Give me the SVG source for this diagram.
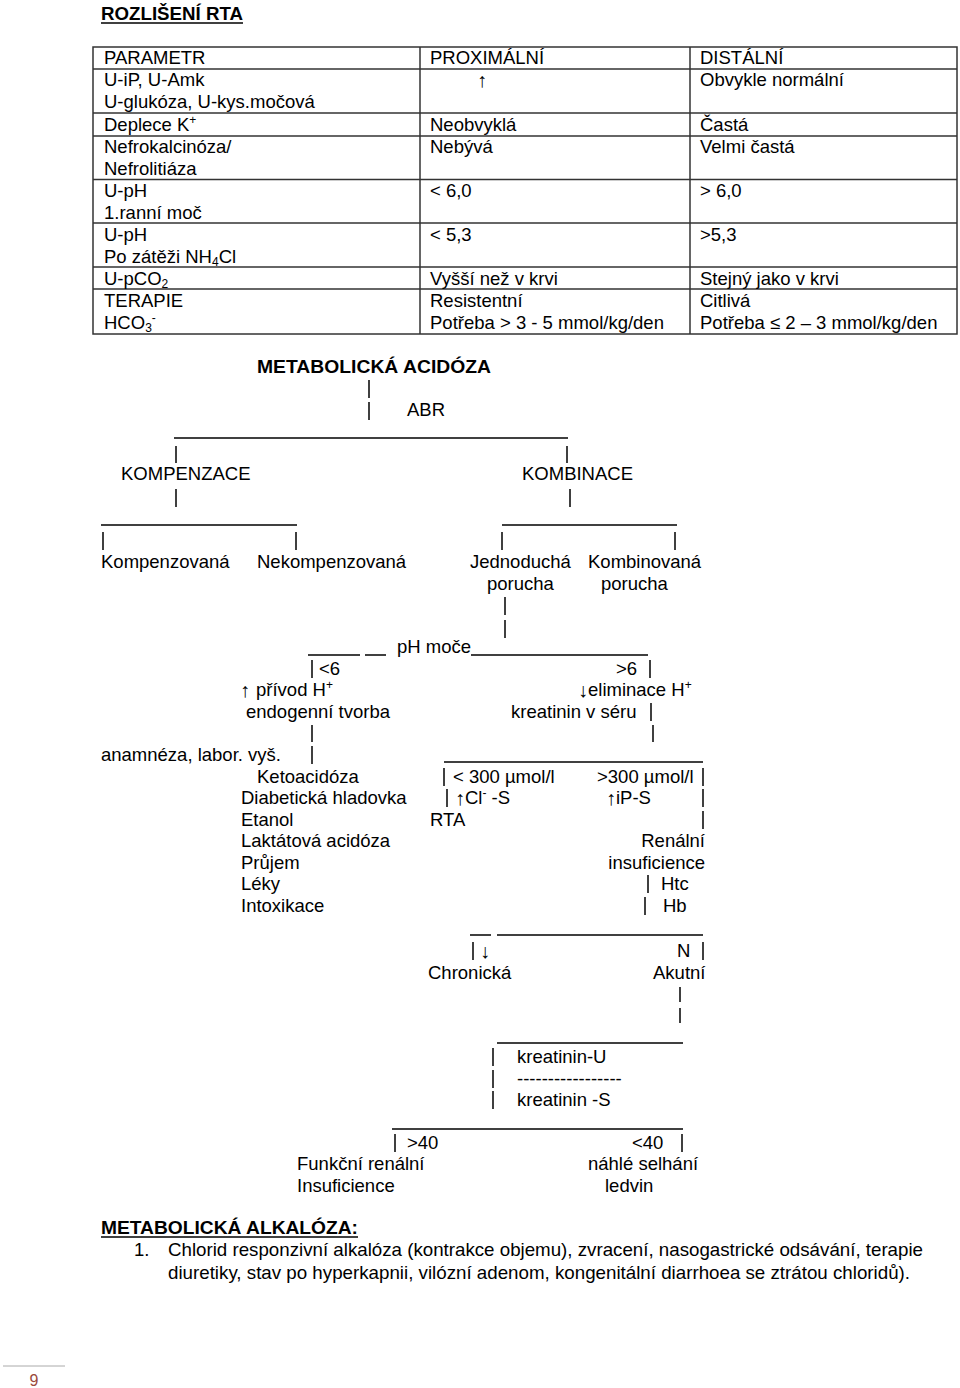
<svg xmlns="http://www.w3.org/2000/svg" width="960" height="1388" viewBox="0 0 960 1388">
<style>
text{font-family:"Liberation Sans",Arial,sans-serif;font-size:18.5px;fill:#000}
.b{font-weight:bold}
.sm{font-size:12px}
.ar{font-size:20px}
.tb{fill:none;stroke:#333;stroke-width:1.5}
.c line{stroke:#000;stroke-width:1.5}
</style>
<rect width="960" height="1388" fill="#fff"/>
<g id="title">
<text class="b" x="101" y="20" textLength="142" lengthAdjust="spacingAndGlyphs">ROZLIŠENÍ RTA</text>
<line x1="101" y1="23" x2="243" y2="23" stroke="#000" stroke-width="1.5"/>
</g>
<g id="table">
<rect class="tb" x="93" y="47" width="864" height="287"/>
<line class="tb" x1="420" y1="47" x2="420" y2="334"/>
<line class="tb" x1="690" y1="47" x2="690" y2="334"/>
<line class="tb" x1="93" y1="69" x2="957" y2="69"/>
<line class="tb" x1="93" y1="113" x2="957" y2="113"/>
<line class="tb" x1="93" y1="136" x2="957" y2="136"/>
<line class="tb" x1="93" y1="179.5" x2="957" y2="179.5"/>
<line class="tb" x1="93" y1="223" x2="957" y2="223"/>
<line class="tb" x1="93" y1="267" x2="957" y2="267"/>
<line class="tb" x1="93" y1="289" x2="957" y2="289"/>
<text x="104" y="64">PARAMETR</text>
<text x="430" y="64">PROXIMÁLNÍ</text>
<text x="700" y="64">DISTÁLNÍ</text>
<text x="104" y="86">U-iP, U-Amk</text>
<text x="104" y="108">U-glukóza, U-kys.močová</text>
<text class="ar" x="482" y="87" text-anchor="middle">↑</text>
<text x="700" y="86">Obvykle normální</text>
<text x="104" y="131">Deplece K<tspan class="sm" dy="-7">+</tspan></text>
<text x="430" y="131">Neobvyklá</text>
<text x="700" y="131">Častá</text>
<text x="104" y="153">Nefrokalcinóza/</text>
<text x="104" y="175">Nefrolitiáza</text>
<text x="430" y="153">Nebývá</text>
<text x="700" y="153">Velmi častá</text>
<text x="104" y="197">U-pH</text>
<text x="104" y="219">1.ranní moč</text>
<text x="430" y="197">&lt; 6,0</text>
<text x="700" y="197">&gt; 6,0</text>
<text x="104" y="241">U-pH</text>
<text x="104" y="263">Po zátěži NH<tspan class="sm" dy="3">4</tspan><tspan dy="-3">Cl</tspan></text>
<text x="430" y="241">&lt; 5,3</text>
<text x="700" y="241">&gt;5,3</text>
<text x="104" y="285">U-pCO<tspan class="sm" dy="3">2</tspan></text>
<text x="430" y="285">Vyšší než v krvi</text>
<text x="700" y="285">Stejný jako v krvi</text>
<text x="104" y="307">TERAPIE</text>
<text x="104" y="329">HCO<tspan class="sm" dy="3">3</tspan><tspan class="sm" dy="-10">-</tspan></text>
<text x="430" y="307">Resistentní</text>
<text x="430" y="329">Potřeba &gt; 3 - 5 mmol/kg/den</text>
<text x="700" y="307">Citlivá</text>
<text x="700" y="329">Potřeba ≤ 2 – 3 mmol/kg/den</text>
</g>
<g id="connectors" class="c">
<line x1="369" y1="380" x2="369" y2="398"/>
<line x1="369" y1="402" x2="369" y2="420"/>
<line x1="174" y1="438" x2="568" y2="438"/>
<line x1="176" y1="446" x2="176" y2="463"/>
<line x1="567" y1="446" x2="567" y2="463"/>
<line x1="176" y1="489" x2="176" y2="507"/>
<line x1="570" y1="489" x2="570" y2="507"/>
<line x1="101" y1="525" x2="297" y2="525"/>
<line x1="502" y1="525" x2="677" y2="525"/>
<line x1="103" y1="532" x2="103" y2="550"/>
<line x1="296" y1="532" x2="296" y2="550"/>
<line x1="502" y1="532" x2="502" y2="550"/>
<line x1="675" y1="532" x2="675" y2="550"/>
<line x1="505" y1="597" x2="505" y2="615"/>
<line x1="505" y1="620" x2="505" y2="638"/>
<line x1="308" y1="655" x2="360" y2="655"/>
<line x1="365" y1="655" x2="386" y2="655"/>
<line x1="471" y1="655" x2="648" y2="655"/>
<line x1="312" y1="660" x2="312" y2="678"/>
<line x1="650" y1="660" x2="650" y2="678"/>
<line x1="651" y1="703" x2="651" y2="721"/>
<line x1="312" y1="725" x2="312" y2="742"/>
<line x1="653" y1="725" x2="653" y2="742"/>
<line x1="312" y1="746" x2="312" y2="764"/>
<line x1="444" y1="762" x2="703" y2="762"/>
<line x1="444" y1="768" x2="444" y2="786"/>
<line x1="703" y1="768" x2="703" y2="786"/>
<line x1="447" y1="789" x2="447" y2="807"/>
<line x1="703" y1="789" x2="703" y2="807"/>
<line x1="703" y1="811" x2="703" y2="829"/>
<line x1="648" y1="875" x2="648" y2="893"/>
<line x1="645" y1="897" x2="645" y2="915"/>
<line x1="470" y1="935" x2="491" y2="935"/>
<line x1="497" y1="935" x2="703" y2="935"/>
<line x1="473" y1="942" x2="473" y2="960"/>
<line x1="703" y1="942" x2="703" y2="960"/>
<line x1="680" y1="987" x2="680" y2="1002"/>
<line x1="680" y1="1008" x2="680" y2="1023"/>
<line x1="497" y1="1043" x2="683" y2="1043"/>
<line x1="493" y1="1048" x2="493" y2="1066"/>
<line x1="493" y1="1070" x2="493" y2="1088"/>
<line x1="493" y1="1091" x2="493" y2="1109"/>
<line x1="392" y1="1129" x2="683" y2="1129"/>
<line x1="395" y1="1134" x2="395" y2="1152"/>
<line x1="682" y1="1134" x2="682" y2="1152"/>
</g>
<g id="n-acidoza"><text class="b" x="257" y="373" textLength="234" lengthAdjust="spacingAndGlyphs">METABOLICKÁ  ACIDÓZA</text></g>
<g id="n-abr"><text x="407" y="416">ABR</text></g>
<g id="n-kompenzace"><text x="121" y="480">KOMPENZACE</text></g>
<g id="n-kombinace"><text x="522" y="480">KOMBINACE</text></g>
<g id="n-kompenzovana"><text x="101" y="568">Kompenzovaná</text></g>
<g id="n-nekompenzovana"><text x="257" y="568">Nekompenzovaná</text></g>
<g id="n-jednoducha"><text x="470" y="568">Jednoduchá</text><text x="487" y="590">porucha</text></g>
<g id="n-kombinovana"><text x="588" y="568">Kombinovaná</text><text x="601" y="590">porucha</text></g>
<g id="n-phmoce"><text x="397" y="653">pH moče</text></g>
<g id="n-lt6">
<text x="319" y="675">&lt;6</text>
<text class="ar" x="245" y="697" text-anchor="middle">↑</text>
<text x="256" y="696">přívod H<tspan class="sm" dy="-7">+</tspan></text>
<text x="246" y="718">endogenní tvorba</text>
</g>
<g id="n-gt6">
<text x="616" y="675">&gt;6</text>
<text class="ar" x="583" y="697" text-anchor="middle">↓</text>
<text x="588" y="696">eliminace H<tspan class="sm" dy="-7">+</tspan></text>
<text x="511" y="718">kreatinin v séru</text>
</g>
<g id="n-anamneza"><text x="101" y="761">anamnéza, labor. vyš.</text></g>
<g id="n-prichiny">
<text x="257" y="783">Ketoacidóza</text>
<text x="241" y="804">Diabetická hladovka</text>
<text x="241" y="826">Etanol</text>
<text x="241" y="847">Laktátová acidóza</text>
<text x="241" y="869">Průjem</text>
<text x="241" y="890">Léky</text>
<text x="241" y="912">Intoxikace</text>
</g>
<g id="n-lt300">
<text x="453" y="783">&lt; 300 µmol/l</text>
<text class="ar" x="460" y="805" text-anchor="middle">↑</text>
<text x="465" y="804">Cl<tspan class="sm" dy="-7">-</tspan><tspan dy="7"> -S</tspan></text>
<text x="430" y="826">RTA</text>
</g>
<g id="n-gt300">
<text x="597" y="783">&gt;300 µmol/l</text>
<text class="ar" x="611" y="805" text-anchor="middle">↑</text>
<text x="616" y="804">iP-S</text>
<text x="705" y="847" text-anchor="end">Renální</text>
<text x="705" y="869" text-anchor="end">insuficience</text>
<text x="661" y="890">Htc</text>
<text x="663" y="912">Hb</text>
</g>
<g id="n-chronicka"><text class="ar" x="485" y="958" text-anchor="middle">↓</text><text x="428" y="979">Chronická</text></g>
<g id="n-akutni"><text x="677" y="957">N</text><text x="653" y="979">Akutní</text></g>
<g id="n-kreatinin">
<text x="517" y="1063">kreatinin-U</text>
<text x="517" y="1085">-----------------</text>
<text x="517" y="1106">kreatinin -S</text>
</g>
<g id="n-gt40"><text x="407" y="1149">&gt;40</text><text x="297" y="1170">Funkční renální</text><text x="297" y="1192">Insuficience</text></g>
<g id="n-lt40"><text x="632" y="1149">&lt;40</text><text x="588" y="1170">náhlé selhání</text><text x="605" y="1192">ledvin</text></g>
<g id="alkaloza">
<text class="b" x="101" y="1234" textLength="257" lengthAdjust="spacingAndGlyphs">METABOLICKÁ  ALKALÓZA:</text>
<line x1="101" y1="1237" x2="358" y2="1237" stroke="#000" stroke-width="1.5"/>
<text x="134" y="1256">1.</text>
<text x="168" y="1256" textLength="755" lengthAdjust="spacingAndGlyphs">Chlorid responzivní alkalóza (kontrakce objemu), zvracení, nasogastrické odsávání, terapie</text>
<text x="168" y="1279" textLength="742" lengthAdjust="spacingAndGlyphs">diuretiky, stav po hyperkapnii, vilózní adenom, kongenitální diarrhoea se ztrátou chloridů).</text>
</g>
<g id="footer">
<line x1="3" y1="1366" x2="65" y2="1366" stroke="#aaa" stroke-width="1"/>
<text x="34" y="1386" text-anchor="middle" style="fill:#9b4a3c;font-size:16px">9</text>
</g>
</svg>
